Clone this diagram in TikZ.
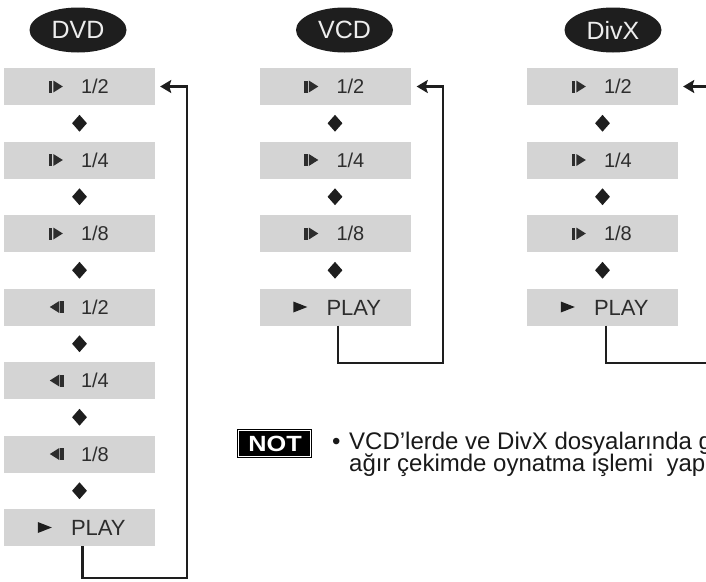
\documentclass[tikz,border=0pt]{standalone}
\usepackage{fontspec}
\setmainfont{Liberation Sans}
\usetikzlibrary{shapes.geometric,arrows.meta,calc}
\definecolor{boxgray}{RGB}{212,212,212}
\definecolor{ink}{RGB}{30,30,30}
\definecolor{txt}{RGB}{45,45,45}
\tikzset{
 modebox/.style={fill=boxgray, minimum width=151pt, minimum height=37pt, inner sep=0pt},
 badge/.style={ellipse, fill=ink, minimum width=97pt, minimum height=45pt, inner sep=0pt, text=white!93!black, font=\fontsize{25}{25}\selectfont},
 lbl/.style={anchor=base west, inner sep=0pt, text=txt, font=\fontsize{20}{20}\selectfont},
 playlbl/.style={lbl, font=\fontsize{22}{22}\selectfont},
 stepmark/.style={diamond, fill=ink, minimum width=15pt, minimum height=17pt, inner sep=0pt},
 loopline/.style={draw=ink, line width=2.4pt, -{Stealth[length=11pt,width=13pt,inset=2pt]}},
 notetext/.style={anchor=base west, inner sep=0pt, text=black!90, font=\fontsize{24}{22}\selectfont},
}
\newcommand\mbentry[5]{%
 \node[modebox] (#1) at (#2,#3) {};
 \ifx f#4
  \fill[txt] ($(#1.west)+(45,-6)$) rectangle ++(3.5,12);
  \fill[txt] ($(#1.west)+(49.5,-6)$) -- ++(0,12) -- ++(9.5,-6) -- cycle;
  \node[lbl] (#1t) at ($(#1.west)+(77,7)$) {#5};
 \fi
 \ifx r#4
  \fill[txt] ($(#1.west)+(46,0)$) -- ++(9.5,-6) -- ++(0,12) -- cycle;
  \fill[txt] ($(#1.west)+(56.5,-6)$) rectangle ++(3.5,12);
  \node[lbl] (#1t) at ($(#1.west)+(77,7)$) {#5};
 \fi
 \ifx p#4
  \fill[ink] ($(#1.west)+(34,-5.5)$) -- ++(0,11) -- ++(14,-5.5) -- cycle;
  \node[playlbl] (#1t) at ($(#1.west)+(67,8)$) {#5};
 \fi
}
\begin{document}
\begin{tikzpicture}[x=1pt,y=-1pt]
\clip (0,0) rectangle (706,581);
\fill[white] (0,0) rectangle (706,581);

% badges
\node[badge] (bdvd) at (78,30) {DVD};
\node[badge] (bvcd) at (344.5,30) {VCD};
\node[badge] (bdivx) at (613,30) {DivX};

% DVD column
\mbentry{d1}{79.5}{86.5}{f}{1/2}
\mbentry{d2}{79.5}{160}{f}{1/4}
\mbentry{d3}{79.5}{233.5}{f}{1/8}
\mbentry{d4}{79.5}{307}{r}{1/2}
\mbentry{d5}{79.5}{380.5}{r}{1/4}
\mbentry{d6}{79.5}{454}{r}{1/8}
\mbentry{d7}{79.5}{527.5}{p}{PLAY}
\foreach \a/\b in {d1/d2,d2/d3,d3/d4,d4/d5,d5/d6,d6/d7}
  \path (\a) -- node[stepmark] (m\a) {} (\b);

% VCD column
\mbentry{v1}{335}{86.5}{f}{1/2}
\mbentry{v2}{335}{160}{f}{1/4}
\mbentry{v3}{335}{233.5}{f}{1/8}
\mbentry{v4}{335}{307}{p}{PLAY}
\foreach \a/\b in {v1/v2,v2/v3,v3/v4}
  \path (\a) -- node[stepmark] (m\a) {} (\b);

% DivX column
\mbentry{x1}{602.5}{86.5}{f}{1/2}
\mbentry{x2}{602.5}{160}{f}{1/4}
\mbentry{x3}{602.5}{233.5}{f}{1/8}
\mbentry{x4}{602.5}{307}{p}{PLAY}
\foreach \a/\b in {x1/x2,x2/x3,x3/x4}
  \path (\a) -- node[stepmark] (m\a) {} (\b);

% loops
\coordinate (dcorner) at (187,578);
\coordinate (vcorner) at (443,363);
\coordinate (xcorner) at (725,363);
\draw[loopline] ([xshift=3pt]d7.south) |- (dcorner) |- ([xshift=5pt]d1.east);
\draw[loopline] ([xshift=3pt]v4.south) |- (vcorner) |- ([xshift=6pt]v1.east);
\draw[loopline] ([xshift=3.5pt]x4.south) |- (xcorner) |- ([xshift=5pt]x1.east);

% note
\node[fill=black, minimum width=75pt, minimum height=29pt, inner sep=0pt] (notbox) at (274.5,443.5) {};
\draw[white, line width=0.8pt] ($(notbox.north west)+(2,2)$) rectangle ($(notbox.south east)+(-2,-2)$);
\node[anchor=base, text=white, font=\bfseries\fontsize{22}{22}\selectfont, xscale=1.15, inner sep=0pt] (nottxt) at (275,451.5) {NOT};
\node[notetext] (bul) at (332,449) {•};
\node[notetext] (line1) at (349,449) {VCD’lerde ve DivX dosyalarında g};
\node[notetext] (line2) at (349,471) {ağır çekimde oynatma işlemi\ \ yap};
\end{tikzpicture}
\end{document}
